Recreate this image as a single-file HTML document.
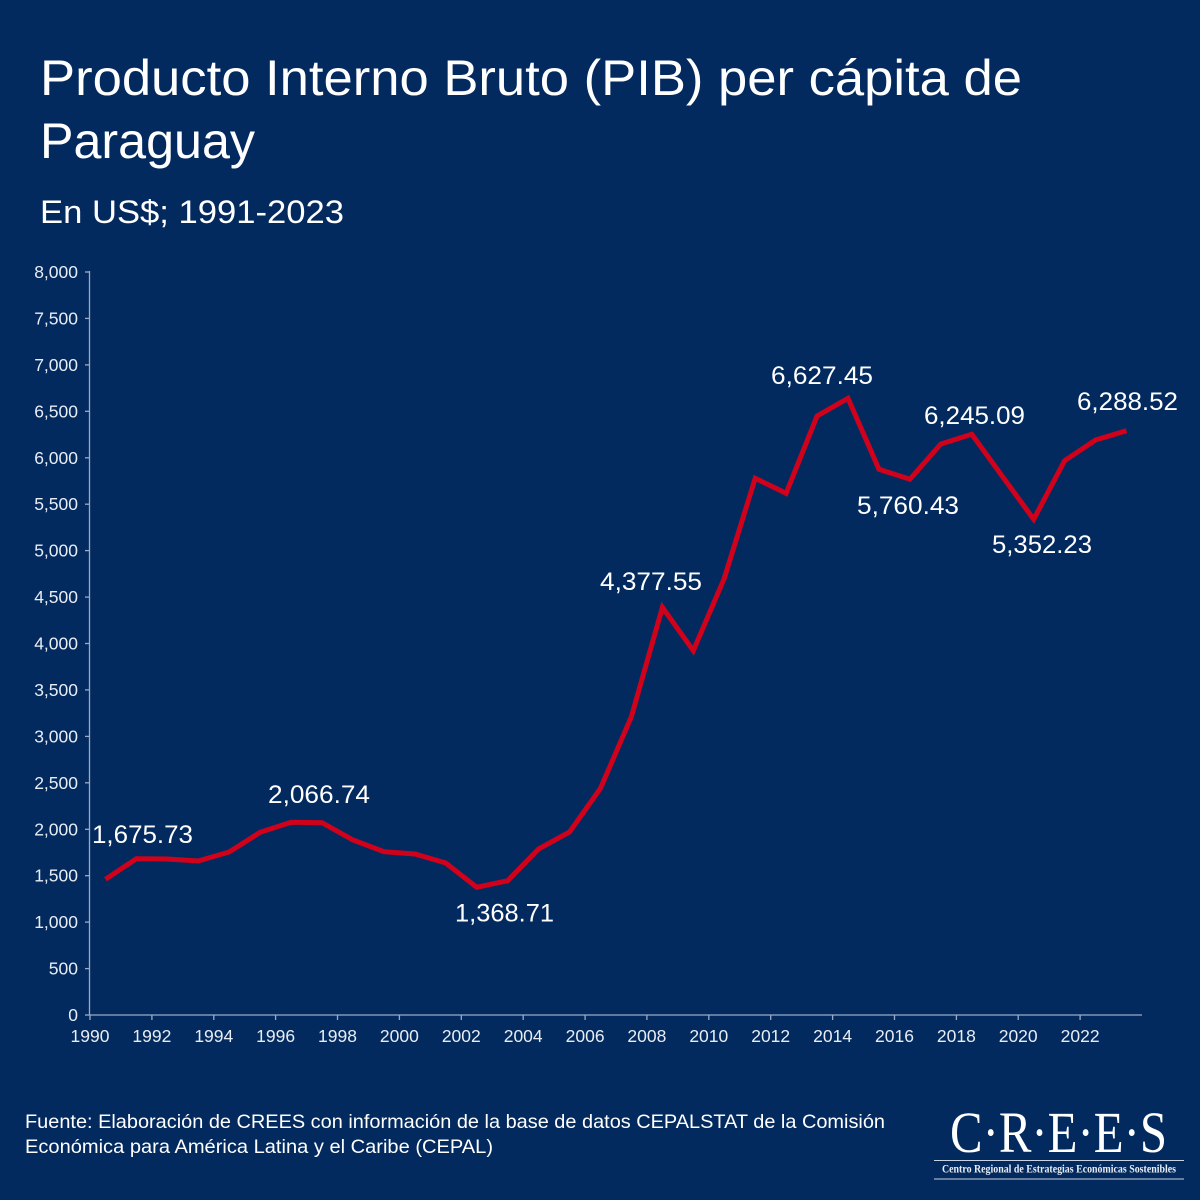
<!DOCTYPE html>
<html>
<head>
<meta charset="utf-8">
<style>
html,body{margin:0;padding:0;background:#032a5f;}
svg{display:block;}
text{font-family:"Liberation Sans",sans-serif;}
</style>
</head>
<body>
<svg width="1200" height="1200" viewBox="0 0 1200 1200" xmlns="http://www.w3.org/2000/svg">
<rect width="1200" height="1200" fill="#032a5f"/>
<!-- Titles -->
<text x="40" y="95" font-size="50" fill="#ffffff" textLength="982" lengthAdjust="spacingAndGlyphs">Producto Interno Bruto (PIB) per cápita de</text>
<text x="40" y="158" font-size="50" fill="#ffffff" textLength="215" lengthAdjust="spacingAndGlyphs">Paraguay</text>
<text x="40" y="223" font-size="32" fill="#ffffff" textLength="304" lengthAdjust="spacingAndGlyphs">En US$; 1991-2023</text>

<!-- Axes -->
<g stroke="#9aabc6" stroke-width="1.3" fill="none">
<line x1="89.5" y1="271" x2="89.5" y2="1015"/>
<line x1="89.5" y1="1015" x2="1142" y2="1015"/>
<line x1="85" y1="272" x2="90" y2="272"/>
<line x1="85" y1="318.4" x2="90" y2="318.4"/>
<line x1="85" y1="364.9" x2="90" y2="364.9"/>
<line x1="85" y1="411.3" x2="90" y2="411.3"/>
<line x1="85" y1="457.8" x2="90" y2="457.8"/>
<line x1="85" y1="504.2" x2="90" y2="504.2"/>
<line x1="85" y1="550.6" x2="90" y2="550.6"/>
<line x1="85" y1="597.1" x2="90" y2="597.1"/>
<line x1="85" y1="643.5" x2="90" y2="643.5"/>
<line x1="85" y1="689.9" x2="90" y2="689.9"/>
<line x1="85" y1="736.4" x2="90" y2="736.4"/>
<line x1="85" y1="782.8" x2="90" y2="782.8"/>
<line x1="85" y1="829.3" x2="90" y2="829.3"/>
<line x1="85" y1="875.7" x2="90" y2="875.7"/>
<line x1="85" y1="922.1" x2="90" y2="922.1"/>
<line x1="85" y1="968.6" x2="90" y2="968.6"/>
<line x1="85" y1="1015" x2="90" y2="1015"/>
<line x1="90" y1="1015" x2="90" y2="1020"/>
<line x1="151.9" y1="1015" x2="151.9" y2="1020"/>
<line x1="213.8" y1="1015" x2="213.8" y2="1020"/>
<line x1="275.6" y1="1015" x2="275.6" y2="1020"/>
<line x1="337.5" y1="1015" x2="337.5" y2="1020"/>
<line x1="399.4" y1="1015" x2="399.4" y2="1020"/>
<line x1="461.3" y1="1015" x2="461.3" y2="1020"/>
<line x1="523.2" y1="1015" x2="523.2" y2="1020"/>
<line x1="585.1" y1="1015" x2="585.1" y2="1020"/>
<line x1="646.9" y1="1015" x2="646.9" y2="1020"/>
<line x1="708.8" y1="1015" x2="708.8" y2="1020"/>
<line x1="770.7" y1="1015" x2="770.7" y2="1020"/>
<line x1="832.6" y1="1015" x2="832.6" y2="1020"/>
<line x1="894.5" y1="1015" x2="894.5" y2="1020"/>
<line x1="956.4" y1="1015" x2="956.4" y2="1020"/>
<line x1="1018.2" y1="1015" x2="1018.2" y2="1020"/>
<line x1="1080.1" y1="1015" x2="1080.1" y2="1020"/>
</g>

<!-- Y tick labels -->
<g font-size="17.5" fill="#e8edf4" text-anchor="end">
<text x="78" y="278">8,000</text>
<text x="78" y="324.4">7,500</text>
<text x="78" y="370.9">7,000</text>
<text x="78" y="417.3">6,500</text>
<text x="78" y="463.8">6,000</text>
<text x="78" y="510.2">5,500</text>
<text x="78" y="556.6">5,000</text>
<text x="78" y="603.1">4,500</text>
<text x="78" y="649.5">4,000</text>
<text x="78" y="695.9">3,500</text>
<text x="78" y="742.4">3,000</text>
<text x="78" y="788.8">2,500</text>
<text x="78" y="835.3">2,000</text>
<text x="78" y="881.7">1,500</text>
<text x="78" y="928.1">1,000</text>
<text x="78" y="974.6">500</text>
<text x="78" y="1021">0</text>
</g>

<!-- X tick labels -->
<g font-size="17.5" fill="#e8edf4" text-anchor="middle">
<text x="90" y="1042">1990</text>
<text x="151.9" y="1042">1992</text>
<text x="213.8" y="1042">1994</text>
<text x="275.6" y="1042">1996</text>
<text x="337.5" y="1042">1998</text>
<text x="399.4" y="1042">2000</text>
<text x="461.3" y="1042">2002</text>
<text x="523.2" y="1042">2004</text>
<text x="585.1" y="1042">2006</text>
<text x="646.9" y="1042">2008</text>
<text x="708.8" y="1042">2010</text>
<text x="770.7" y="1042">2012</text>
<text x="832.6" y="1042">2014</text>
<text x="894.5" y="1042">2016</text>
<text x="956.4" y="1042">2018</text>
<text x="1018.2" y="1042">2020</text>
<text x="1080.1" y="1042">2022</text>
</g>

<!-- Series -->
<polyline fill="none" stroke="#d0021b" stroke-width="5" stroke-linejoin="miter" stroke-miterlimit="4"
points="105.5,879.3 136.4,858.7 167.4,859 198.3,861 229.2,852 260.2,832.3 291.1,822.3 322.1,822.7 353,840 383.9,851.7 414.9,854 445.8,863 476.8,887.3 507.7,880.7 538.6,849 569.6,832 600.5,788.3 631.4,716.7 662.4,607.3 693.3,650.7 724.3,578.3 755.2,478.3 786.1,493.3 817.1,416 848,398.3 879,469.3 909.9,479.3 940.8,444 971.8,434.3 1002.7,476.8 1033.7,519.3 1064.6,460.7 1095.5,440 1126.5,430.7"/>

<!-- Data labels -->
<g font-size="25" fill="#ffffff">
<text x="92" y="843" textLength="101" lengthAdjust="spacingAndGlyphs">1,675.73</text>
<text x="268" y="803" textLength="102" lengthAdjust="spacingAndGlyphs">2,066.74</text>
<text x="455" y="921.5" textLength="99" lengthAdjust="spacingAndGlyphs">1,368.71</text>
<text x="600" y="590" textLength="102" lengthAdjust="spacingAndGlyphs">4,377.55</text>
<text x="771" y="384" textLength="102" lengthAdjust="spacingAndGlyphs">6,627.45</text>
<text x="857" y="514" textLength="102" lengthAdjust="spacingAndGlyphs">5,760.43</text>
<text x="924" y="424" textLength="101" lengthAdjust="spacingAndGlyphs">6,245.09</text>
<text x="992" y="553" textLength="100" lengthAdjust="spacingAndGlyphs">5,352.23</text>
<text x="1077" y="410" textLength="101" lengthAdjust="spacingAndGlyphs">6,288.52</text>
</g>

<!-- Footer -->
<text x="25" y="1128" font-size="19.5" fill="#ffffff" textLength="860" lengthAdjust="spacingAndGlyphs">Fuente: Elaboración de CREES con información de la base de datos CEPALSTAT de la Comisión</text>
<text x="25" y="1153" font-size="19.5" fill="#ffffff" textLength="468" lengthAdjust="spacingAndGlyphs">Económica para América Latina y el Caribe (CEPAL)</text>

<!-- Logo -->
<text x="950" y="1152" font-family="Liberation Serif, serif" font-size="58" fill="#ffffff" textLength="217" lengthAdjust="spacingAndGlyphs" style="font-family:'Liberation Serif',serif">C·R·E·E·S</text>
<line x1="934" y1="1160.5" x2="1184" y2="1160.5" stroke="#c9d2e0" stroke-width="1"/>
<line x1="934" y1="1179" x2="1184" y2="1179" stroke="#c9d2e0" stroke-width="1"/>
<text x="942" y="1172.5" font-size="11.5" font-weight="bold" fill="#e8edf4" textLength="234" lengthAdjust="spacingAndGlyphs" style="font-family:'Liberation Serif',serif">Centro Regional de Estrategias Económicas Sostenibles</text>
</svg>
</body>
</html>
